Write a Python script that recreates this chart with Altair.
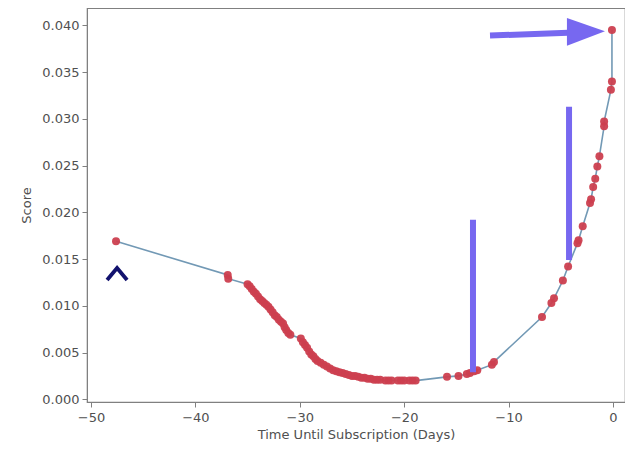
import altair as alt
import pandas as pd

# Data points (days until subscription, score), in drawing order
days = [-47.6, -36.9, -36.85, -35.0, -34.8, -34.6, -34.4, -34.2, -34.0, -33.8,
        -33.6, -33.4, -33.2, -33.0, -32.8, -32.6, -32.4, -32.2, -32.0, -31.8,
        -31.6, -31.45, -31.3, -31.1, -30.9, -29.9, -29.7, -29.5, -29.3, -29.1,
        -28.9, -28.7, -28.5, -28.3, -28.0, -27.7, -27.4, -27.1, -26.8, -26.5,
        -26.2, -25.9, -25.6, -25.3, -25.0, -24.7, -24.4, -24.1, -23.8, -23.5,
        -23.2, -22.9, -22.6, -22.3, -21.8, -21.5, -21.2, -20.6, -20.3, -20.0,
        -19.5, -19.2, -18.9, -15.9, -14.8, -14.0, -13.7, -13.3, -13.0, -11.6,
        -11.4, -6.8, -5.9, -5.65, -4.8, -4.3, -3.4, -3.3, -2.9, -2.2,
        -2.1, -1.9, -1.7, -1.5, -1.3, -0.85, -0.85, -0.2, -0.1, -0.1]
scores = [0.0169, 0.0133, 0.0129, 0.0123, 0.0121, 0.0118, 0.0115, 0.0113, 0.0110, 0.0107,
          0.0105, 0.0103, 0.0101, 0.0099, 0.0096, 0.0093, 0.0090, 0.0088, 0.0085, 0.0083,
          0.0081, 0.0077, 0.0074, 0.0071, 0.0069, 0.0065, 0.0061, 0.0058, 0.0055, 0.0051,
          0.0048, 0.0046, 0.0043, 0.0041, 0.0039, 0.0037, 0.0035, 0.0033, 0.0031, 0.0030,
          0.0029, 0.0028, 0.0027, 0.0026, 0.0025, 0.0025, 0.0024, 0.0023, 0.0023, 0.0022,
          0.0022, 0.0021, 0.0021, 0.0021, 0.0020, 0.0020, 0.0020, 0.0020, 0.0020, 0.0020,
          0.0020, 0.0020, 0.0020, 0.0024, 0.0025, 0.0027, 0.0028, 0.0030, 0.0031, 0.0037,
          0.0040, 0.0088, 0.0103, 0.0108, 0.0127, 0.0142, 0.0167, 0.0170, 0.0185, 0.0210,
          0.0214, 0.0227, 0.0236, 0.0249, 0.0260, 0.0292, 0.0297, 0.0331, 0.0340, 0.0395]

x_ticks = [-50, -40, -30, -20, -10, 0]
y_ticks = [0.000, 0.005, 0.010, 0.015, 0.020, 0.025, 0.030, 0.035, 0.040]
x_domain = [-50.38, 1.15]
y_domain = [-0.00029, 0.04185]

# Hand-drawn annotation marks (data coordinates)
bar_x = [-13.41, -4.21]
bar_y_top = [0.0192, 0.0313]
bar_y_bottom = [0.0029, 0.0149]
arrow_x = [-11.78]
arrow_x2 = [-4.3]
arrow_y = [0.0389]
arrow_y2 = [0.0392]
head_x = [-2.59]
head_y = [0.03927]
caret_x = [-47.5]
caret_y = [0.0134]

df = pd.DataFrame({"order": list(range(len(days))), "days": days, "score": scores})
bars = pd.DataFrame({"x": bar_x, "y": bar_y_top, "y2": bar_y_bottom})
shaft = pd.DataFrame({"x": arrow_x, "x2": arrow_x2, "y": arrow_y, "y2": arrow_y2})
head = pd.DataFrame({"x": head_x, "y": head_y})
caret = pd.DataFrame({"x": caret_x, "y": caret_y})

xs = alt.Scale(domain=x_domain, nice=False, zero=False)
ys = alt.Scale(domain=y_domain, nice=False, zero=False)

x_enc = alt.X("days:Q", scale=xs, title="Time Until Subscription (Days)",
              axis=alt.Axis(values=x_ticks, format="d", grid=False))
y_enc = alt.Y("score:Q", scale=ys, title="Score",
              axis=alt.Axis(values=y_ticks, format=".3f", grid=False))

line = alt.Chart(df).mark_line(color="#7299b5", strokeWidth=1.6).encode(
    x=x_enc, y=y_enc, order="order:Q")
pts = alt.Chart(df).mark_point(filled=True, color="#cc3f4f", size=64, opacity=0.95).encode(
    x=x_enc, y=y_enc)

purple = "#7768f0"
bar_layer = alt.Chart(bars).mark_rule(color=purple, strokeWidth=6).encode(
    x=alt.X("x:Q", scale=xs), y=alt.Y("y:Q", scale=ys), y2="y2:Q")
shaft_layer = alt.Chart(shaft).mark_rule(color=purple, strokeWidth=6).encode(
    x=alt.X("x:Q", scale=xs), x2="x2:Q", y=alt.Y("y:Q", scale=ys), y2="y2:Q")
head_layer = alt.Chart(head).mark_point(
    shape="M-1,-0.74L1,-0.05L-1,0.72Z", filled=True, color=purple, size=1444,
    opacity=1, strokeWidth=0).encode(
    x=alt.X("x:Q", scale=xs), y=alt.Y("y:Q", scale=ys))
caret_layer = alt.Chart(caret).mark_point(
    shape="M-1,0.6L0,-0.6L1,0.6", filled=False, color="#12126e", size=400,
    strokeWidth=3.8, opacity=1).encode(
    x=alt.X("x:Q", scale=xs), y=alt.Y("y:Q", scale=ys))

chart = alt.layer(line, pts, bar_layer, shaft_layer, head_layer, caret_layer).properties(
    width=538, height=394,
    autosize=alt.AutoSizeParams(type="none"),
    padding={"left": 79, "top": 0, "right": 0, "bottom": 42},
).configure_view(
    stroke="#808080", strokeWidth=1.2
).configure_axis(
    labelFont="DejaVu Sans", titleFont="DejaVu Sans",
    labelFontSize=13, titleFontSize=13, titleFontWeight="normal",
    labelColor="#505050", titleColor="#505050",
    domainColor="#808080", tickColor="#808080", tickSize=5,
    labelPadding=3,
).configure_axisY(titlePadding=8).configure_axisX(titlePadding=4, labelPadding=4)

chart.save("out.html", embed_options={"renderer": "svg", "actions": False})
